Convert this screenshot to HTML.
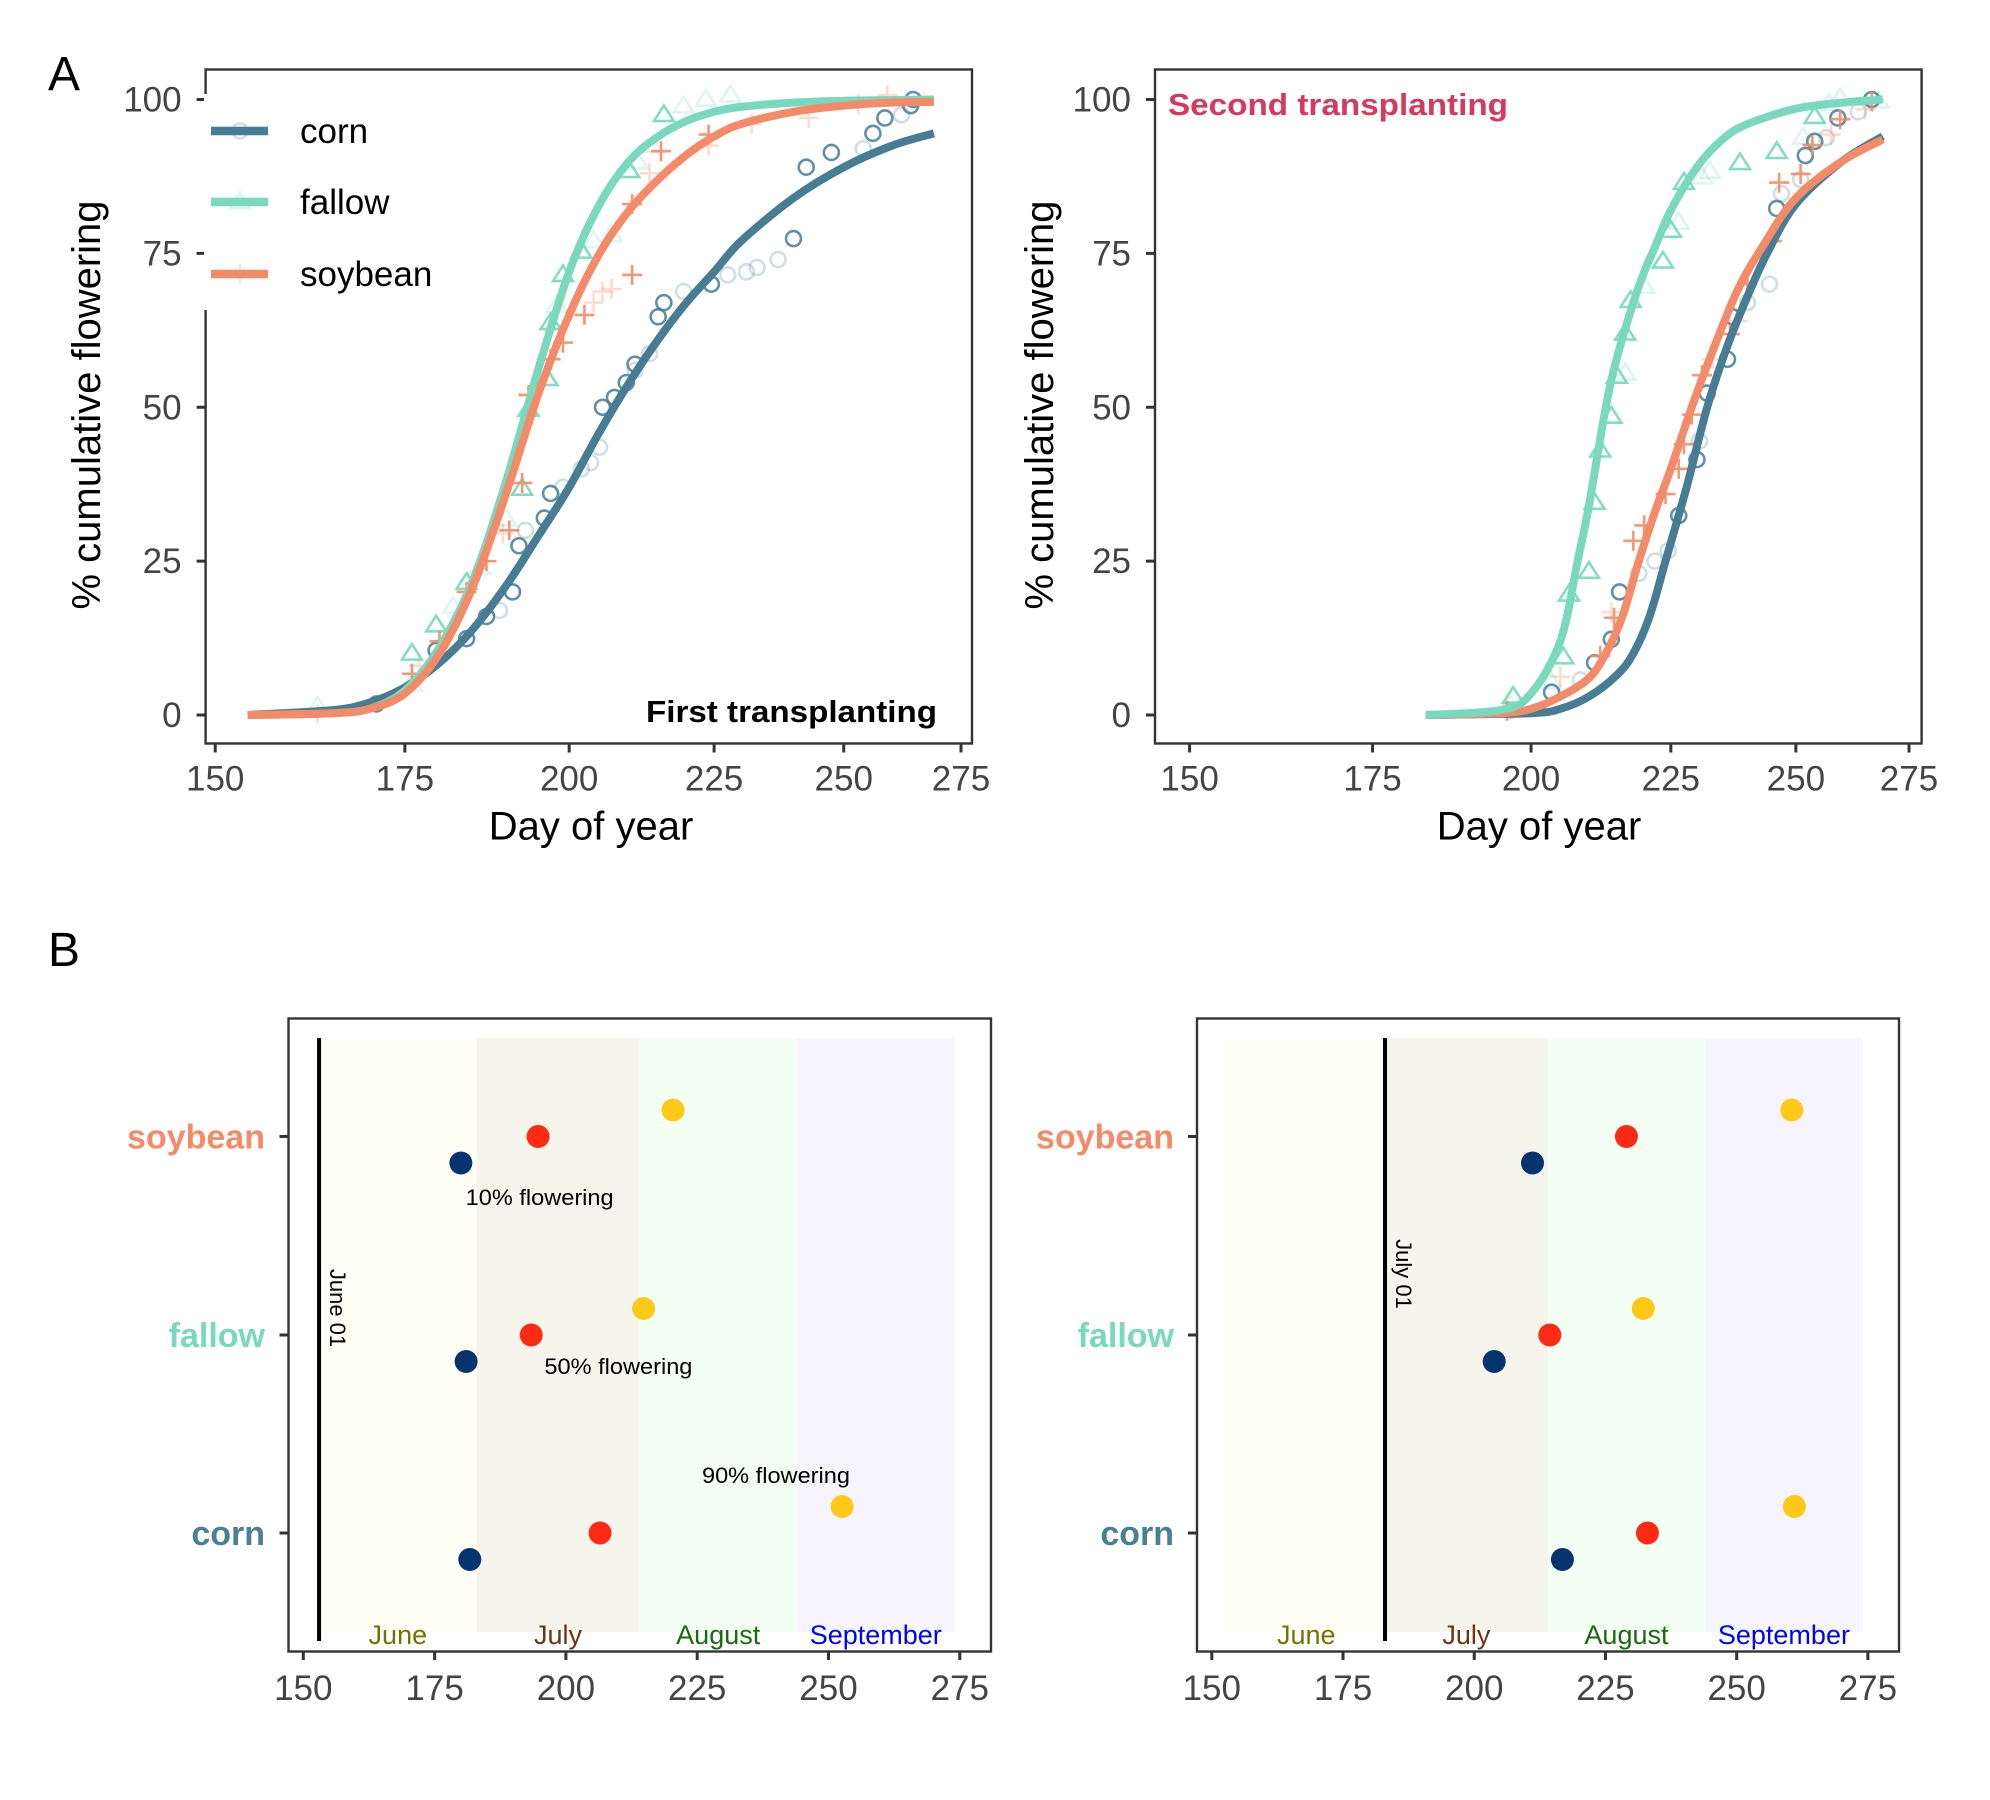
<!DOCTYPE html>
<html><head><meta charset="utf-8"><style>
html,body{margin:0;padding:0;background:#fff;}
svg{display:block;font-family:"Liberation Sans",sans-serif;}
</style></head><body>
<svg id="fig" width="1990" height="1800" viewBox="0 0 1990 1800" xmlns="http://www.w3.org/2000/svg">
<rect width="1990" height="1800" fill="#fff"/>
<text x="64" y="90" font-size="48" text-anchor="middle">A</text>
<text x="64" y="966" font-size="48" text-anchor="middle">B</text>
<g id="gA1"></g>
<g id="gA2"></g>
<g id="gB1"></g>
<g id="gB2"></g>
</svg>
<script>
// ---------- data ----------
const seriesNames = ['corn','fallow','soybean'];
const seriesColors = {corn:'#467c94', fallow:'#79d8bd', soybean:'#f38b69'};
const xTicks = [150,175,200,225,250,275];
const yTicks = [0,25,50,75,100];

// fitted curves, first transplanting (day, %)
const a1CornCurveDays = [154,165,170,175,180,185,190,195,200,205,210,215,220,225,230,240,250,260,269];
const a1CornCurveVals = [0,0.8,2,4.5,8.5,14,21,29,37,46,54,61,67,72,77,84,89,92.5,94.5];
const a1FallowCurveDays = [154,165,170,175,180,185,190,195,200,205,210,215,220,225,230,240,250,260,269];
const a1FallowCurveVals = [0,0.3,1,4,11,22,38,56,72,83,90,94,96.5,98,98.8,99.5,99.8,99.9,100];
const a1SoyCurveDays = [154,165,170,175,180,185,190,195,200,205,210,215,220,225,230,240,250,260,269];
const a1SoyCurveVals = [0,0.3,1,3.5,10,21,36,52,65,75,82,87,91,94,96,98,99,99.5,99.6];
// fitted curves, second transplanting
const a2CornCurveDays = [183,200,205,210,215,218,221,224,228,232,236,240,244,250,260,269];
const a2CornCurveVals = [0,0.3,1,3,6.5,10,16,25,37,50,60,68,75,83,90,94];
const a2FallowCurveDays = [183,195,200,205,208,210,213,215,218,220,222,225,230,235,240,250,260,269];
const a2FallowCurveVals = [0,0.8,3.5,12,25,34,50,58,67,72,76,82,89,93.5,96,98.5,99.5,100];
const a2SoyCurveDays = [183,195,200,205,210,213,216,219,222,225,229,233,238,243,250,260,269];
const a2SoyCurveVals = [0,0.3,1,3,6,10,16,25,33,40,50,59,69,76,84,90,93.5];

// observations first transplanting: dark (rep 1) and faint (rep 2)
const a1CornDays  = [171,179.5,184,187,191,192,196,197,205.5,207.5,209.5,211,215,216,224.5,240,242.5,247.5,256,258.5,264,264.5];
const a1CornVals  = [1.8,10.5,12.4,16,20,27.5,32,36,50,51.6,54,57,64.7,67,70,77.4,89,91.4,94.5,97,99,100];
const a1CornFaintDays = [189,193,199,202,203.5,205,211,213.5,219.5,227.5,231,233,237,254,262];
const a1CornFaintVals = [17,30,37,40,41,43.5,56,58.7,68.8,71.5,72,72.7,74,92,97.5];
const a1FallowDays = [176,179.5,184,192.5,193.5,196.5,197,199,202,210,216];
const a1FallowVals = [10,14.6,21.5,36.8,49.6,54.6,63.7,71.5,75.3,88.4,97.5];
const a1FallowFaintDays = [163,176,182,186,190,198,204,207,211.5,214,219.5,223.5,228];
const a1FallowFaintVals = [1.4,5,17.6,24,31.8,66.5,77,78,89.8,92.5,98.9,100,100.7];
const a1SoyDays = [176,180,184,187,190.5,192.5,193.5,197,199,202.5,210.5,210.5,215.5,224];
const a1SoyVals = [6.7,12,20,25,30,37.7,52,57.8,60.5,65,71.5,83,91.6,94.3];
const a1SoyFaintDays = [163,177,181,189.5,204,205.5,207,213.5,224,232,243,253,259];
const a1SoyFaintVals = [0.3,8,11,29.5,67,68.8,69.2,88,92.5,96,97,99.2,100.7];
// observations second transplanting
const a2CornDays = [203.5,211,214,215.5,226.5,230,232,236,237,246,252,254,259,266.5];
const a2CornVals = [3.7,8.5,12.3,20,32.4,41.5,52.3,57.8,64.7,82.3,90.9,93.2,97,100];
const a2CornFaintDays = [196.5,208.5,219,222,224.5,230.5,240,244.5,247,251,256.5,263.5];
const a2CornFaintVals = [0.7,5.7,23,25,26.7,44.5,67,70,84.7,87,93.8,98];
const a2FallowDays = [197,205.5,206.5,210,211,212,214,215,216.5,217.5,223.5,225,227.5,238.5,246,254];
const a2FallowVals = [3,9.4,19.6,23.3,34.5,43,48.5,55,62,67.3,73.7,78.7,86.5,89.7,91.5,97.2];
const a2FallowFaintDays = [196.5,203.5,216.5,220,226.5,231,232.5,251.5,257,259.5,268];
const a2FallowFaintVals = [1.6,5.3,55.5,69.6,80,87.4,88.3,93.8,99.3,100.2,99.7];
const a2SoyDays = [196,212,214.5,218,220,224,226.5,227.5,229,231,236.5,240,245,246.5,251,253.5,259.5,266.5];
const a2SoyVals = [0.7,9.6,15.8,28.3,30.8,35.9,40,44,48.8,55.2,61.9,70,77,86.5,87.9,92.6,96.8,99.7];
const a2SoyFaintDays = [205,214,233,238,257.5,265];
const a2SoyFaintVals = [6.2,16.7,57.8,64,94.3,98.4];

// timeline panel data: day of 10%, 50%, 90% flowering (order corn, fallow, soybean)
const categories = ['corn','fallow','soybean'];
const b1Day10 = [181.7,181.0,180.0];
const b1Day50 = [206.5,193.4,194.7];
const b1Day90 = [252.6,214.8,220.4];
const b2Day10 = [216.8,203.8,211.1];
const b2Day50 = [233.0,214.4,229.0];
const b2Day90 = [261.0,232.2,260.5];
const monthNames = ['June','July','August','September'];
const monthStarts = [153,183,214,244];
const monthEnds = [183,214,244,274];

// ---------- helpers ----------
const NS='http://www.w3.org/2000/svg';
function mk(parent,tag,attrs,text){
  const e=document.createElementNS(NS,tag);
  for(const k in attrs) e.setAttribute(k,attrs[k]);
  if(text!==undefined) e.textContent=text;
  parent.appendChild(e); return e;
}
function logX(x150,x275){const b=(x275-x150)/Math.log(275/150);return d=>x150+b*Math.log(d/150);}
function linX(x150,x275){return d=>x150+(d-150)*(x275-x150)/125;}
function smoothPath(P){
  let d=`M${P[0][0].toFixed(1)},${P[0][1].toFixed(1)}`;
  for(let i=0;i<P.length-1;i++){
    const p0=P[Math.max(0,i-1)],p1=P[i],p2=P[i+1],p3=P[Math.min(P.length-1,i+2)];
    const c1=[p1[0]+(p2[0]-p0[0])/6,p1[1]+(p2[1]-p0[1])/6];
    const c2=[p2[0]-(p3[0]-p1[0])/6,p2[1]-(p3[1]-p1[1])/6];
    d+=`C${c1[0].toFixed(1)},${c1[1].toFixed(1)} ${c2[0].toFixed(1)},${c2[1].toFixed(1)} ${p2[0].toFixed(1)},${p2[1].toFixed(1)}`;
  }
  return d;
}

function symbol(g,kind,x,y,color,op){
  let e;
  if(kind==='corn'){
    e=mk(g,'circle',{cx:x,cy:y,r:7.5,fill:'none',stroke:color,'stroke-width':2.6,opacity:op});
  } else if(kind==='fallow'){
    const s=9.5;
    e=mk(g,'polygon',{points:`${x},${y-s} ${x-s*1.05},${y+s*0.65} ${x+s*1.05},${y+s*0.65}`,fill:'none',stroke:color,'stroke-width':2.6,opacity:op});
  } else {
    e=mk(g,'path',{d:`M${x-10},${y}H${x+10}M${x},${y-10}V${y+10}`,stroke:color,'stroke-width':2.6,fill:'none',opacity:op});
  }
  return e;
}

function drawA(g,o){
  const X=o.X, Y=v=>o.y0+(o.y100-o.y0)*v/100;
  const box=mk(g,'rect',{x:o.left,y:o.top,width:o.right-o.left,height:o.bottom-o.top,fill:'none',stroke:'#333','stroke-width':2.4});
  
  
  xTicks.forEach(t=>{
    const x=X(t);
    const tk=mk(g,'line',{x1:x,x2:x,y1:o.bottom,y2:o.bottom+9,stroke:'#333','stroke-width':3});
    
    
    const lb=mk(g,'text',{x:x,y:o.bottom+47,'font-size':35,fill:'#444','text-anchor':'middle'},String(t));
    
    
  });
  yTicks.forEach(t=>{
    const y=Y(t);
    const tk=mk(g,'line',{x1:o.left-9,x2:o.left,y1:y,y2:y,stroke:'#333','stroke-width':3});
    
    
    const lb=mk(g,'text',{x:o.left-24,y:y+12,'font-size':35,fill:'#444','text-anchor':'end'},String(t));
    
    
  });
  const xt=mk(g,'text',{x:o.xTitleX,y:o.bottom+96,'font-size':40,fill:'#000','text-anchor':'middle'},'Day of year');
  
  
  const yt=mk(g,'text',{x:0,y:0,'font-size':40,fill:'#000','text-anchor':'middle',transform:`translate(${o.yTitleX+14},405) rotate(-90)`},'% cumulative flowering');
  
  
  o.obs.forEach(s=>{
    s.days.forEach((d,i)=>{
      const p=symbol(g,s.kind,X(d),Y(s.vals[i]),seriesColors[s.kind],s.op);
      
      
    });
  });
  o.curves.forEach(c=>{
    const P=c.days.map((d,i)=>[X(d),Y(c.vals[i])]);
    const pl=mk(g,'path',{d:smoothPath(P),fill:'none',stroke:seriesColors[c.kind],'stroke-width':8,'stroke-linejoin':'round'});
    
    
  });
}

// panel A1
const gA1=document.getElementById('gA1');
drawA(gA1,{X:logX(215.2,961),y0:715,y100:99.5,left:205.6,right:972,top:69.5,bottom:743.5,xTitleX:591,yTitleX:86,
  obs:[
    {kind:'corn',days:a1CornFaintDays,vals:a1CornFaintVals,op:0.25},
    {kind:'fallow',days:a1FallowFaintDays,vals:a1FallowFaintVals,op:0.25},
    {kind:'soybean',days:a1SoyFaintDays,vals:a1SoyFaintVals,op:0.3},
    {kind:'corn',days:a1CornDays,vals:a1CornVals,op:0.85},
    {kind:'fallow',days:a1FallowDays,vals:a1FallowVals,op:0.9},
    {kind:'soybean',days:a1SoyDays,vals:a1SoyVals,op:0.9}],
  curves:[{kind:'corn',days:a1CornCurveDays,vals:a1CornCurveVals},
          {kind:'fallow',days:a1FallowCurveDays,vals:a1FallowCurveVals},
          {kind:'soybean',days:a1SoyCurveDays,vals:a1SoyCurveVals}]});
{
  const t=mk(gA1,'text',{x:937,y:722,'font-size':31,'font-weight':'bold','text-anchor':'end',textLength:291,lengthAdjust:'spacingAndGlyphs'},'First transplanting');
  
  
  const lg=mk(gA1,'g',{});
  
  
  mk(lg,'rect',{x:204,y:94,width:245,height:216,fill:'#fff'});
  const ly=[131,202,274];
  seriesNames.forEach((n,i)=>{
    const e=mk(lg,'g',{});
    
    
    symbol(e,n,240,ly[i],seriesColors[n],0.25);
    mk(e,'line',{x1:211,x2:268,y1:ly[i],y2:ly[i],stroke:seriesColors[n],'stroke-width':8.5});
    mk(e,'text',{x:300,y:ly[i]+12,'font-size':35,fill:'#000'},n);
  });
}
// panel A2
const gA2=document.getElementById('gA2');
drawA(gA2,{X:logX(1189.6,1909),y0:715,y100:99.5,left:1155,right:1921.6,top:69.5,bottom:743.5,xTitleX:1539,yTitleX:1039,
  obs:[
    {kind:'corn',days:a2CornFaintDays,vals:a2CornFaintVals,op:0.25},
    {kind:'fallow',days:a2FallowFaintDays,vals:a2FallowFaintVals,op:0.25},
    {kind:'soybean',days:a2SoyFaintDays,vals:a2SoyFaintVals,op:0.3},
    {kind:'corn',days:a2CornDays,vals:a2CornVals,op:0.85},
    {kind:'fallow',days:a2FallowDays,vals:a2FallowVals,op:0.9},
    {kind:'soybean',days:a2SoyDays,vals:a2SoyVals,op:0.9}],
  curves:[{kind:'corn',days:a2CornCurveDays,vals:a2CornCurveVals},
          {kind:'soybean',days:a2SoyCurveDays,vals:a2SoyCurveVals},
          {kind:'fallow',days:a2FallowCurveDays,vals:a2FallowCurveVals}]});
{
  const t=mk(gA2,'text',{x:1168,y:115,'font-size':31,'font-weight':'bold',fill:'#d5395b',textLength:340,lengthAdjust:'spacingAndGlyphs'},'Second transplanting');
  
  
}

// ---------- B panels ----------
const monthFill=['#fffff5','#f5f5ec','#f3fff3','#f6f5ff'];
const monthColor=['#7a7000','#6b3515','#1a6a10','#0000ff'];
const catColor={soybean:'#f38b69',fallow:'#79d8bd',corn:'#4a7f96'};
function drawB(g,o){
  const X=o.X;
  const catY={soybean:1136.5,fallow:1335,corn:1533};
  monthNames.forEach((m,i)=>{
    const r=mk(g,'rect',{x:X(monthStarts[i]),y:1038,width:X(monthEnds[i])-X(monthStarts[i]),height:594,fill:monthFill[i]});
    
    
    const t=mk(g,'text',{x:X((monthStarts[i]+monthEnds[i])/2),y:1644,'font-size':27,fill:monthColor[i],'text-anchor':'middle'},m);
    
    
  });
  const vl=mk(g,'line',{x1:X(o.lineDay),x2:X(o.lineDay),y1:1038,y2:1641,stroke:'#000','stroke-width':4});
  
  
  const lt=mk(g,'text',{x:0,y:0,'font-size':22,fill:'#000','text-anchor':'middle',transform:`translate(${X(o.lineDay)+11},${o.lineLabelY}) rotate(90)`},o.lineLabel);
  
  
  const box=mk(g,'rect',{x:o.left,y:1018.5,width:o.right-o.left,height:633,fill:'none',stroke:'#333','stroke-width':2.4});
  
  
  xTicks.forEach(t=>{
    const x=X(t);
    const tk=mk(g,'line',{x1:x,x2:x,y1:1651,y2:1660,stroke:'#333','stroke-width':3});
    
    
    const lb=mk(g,'text',{x:x,y:1700,'font-size':35,fill:'#444','text-anchor':'middle'},String(t));
    
    
  });
  categories.forEach((c,i)=>{
    const y=catY[c];
    const tk=mk(g,'line',{x1:o.left-9,x2:o.left,y1:y,y2:y,stroke:'#333','stroke-width':3});
    
    
    const lb=mk(g,'text',{x:o.labelRight,y:y+12,'font-size':34,'font-weight':'bold',fill:catColor[c],'text-anchor':'end'},c);
    
    
    const d1=mk(g,'circle',{cx:X(o.d10[i]),cy:y+26.5,r:11.5,fill:'#07336f'});
    
    
    const d2=mk(g,'circle',{cx:X(o.d50[i]),cy:y,r:11.5,fill:'#fd2b14'});
    
    
    const d3=mk(g,'circle',{cx:X(o.d90[i]),cy:y-26.5,r:11.5,fill:'#fdc919'});
    
    
  });
}
const gB1=document.getElementById('gB1');
const XB1=linX(303.3,959.8);
drawB(gB1,{X:XB1,left:288.5,right:991,labelRight:265,lineDay:153,lineLabel:'June 01',lineLabelY:1308,d10:b1Day10,d50:b1Day50,d90:b1Day90});
[['10% flowering',195,1205],['50% flowering',210,1374],['90% flowering',240,1483]].forEach(a=>{
  const t=mk(gB1,'text',{x:XB1(a[1]),y:a[2],'font-size':22,fill:'#000','text-anchor':'middle',textLength:148,lengthAdjust:'spacingAndGlyphs'},a[0]);
  
  
});
const gB2=document.getElementById('gB2');
drawB(gB2,{X:linX(1211.8,1867.9),left:1197,right:1899,labelRight:1174,lineDay:183,lineLabel:'July 01',lineLabelY:1274,d10:b2Day10,d50:b2Day50,d90:b2Day90});
</script>
</body></html>
